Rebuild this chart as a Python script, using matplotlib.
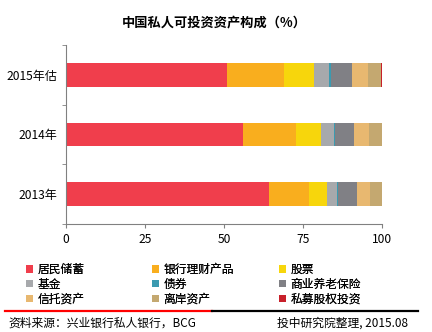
import matplotlib
matplotlib.use("Agg")
import matplotlib.pyplot as plt
from matplotlib.patches import Patch
from matplotlib.lines import Line2D
import numpy as np

plt.rcParams['font.family'] = ['Noto Sans CJK SC', 'DejaVu Sans']

years = ["2013年", "2014年", "2015年估"]
categories = ["居民储蓄", "银行理财产品", "股票", "基金", "债券", "商业养老保险",
              "信托资产", "离岸资产", "私募股权投资"]
values_2013 = [64.2, 12.6, 5.7, 3.1, 0.3, 6.1, 4.1, 3.9, 0.5]
values_2014 = [56.0, 16.7, 7.9, 4.0, 0.4, 6.1, 4.7, 4.1, 0.6]
values_2015 = [50.9, 18.0, 9.5, 4.7, 0.6, 6.7, 5.1, 4.1, 0.6]
colors = ["#F03E4C", "#F9AE1E", "#F7D60C", "#A7A9AC", "#3B9AB0", "#808085",
          "#E8B870", "#C4A870", "#C8202A"]

data = np.array([values_2013, values_2014, values_2015])

fig = plt.figure(figsize=(4.32, 3.32), dpi=100)
ax = fig.add_axes([65.7/432, 1-224/332, (382.3-65.7)/432, (224-45)/332])

y = np.arange(len(years))
left = np.zeros(len(years))
for i, cat in enumerate(categories):
    ax.barh(y, data[:, i], left=left, height=0.40, color=colors[i], label=cat)
    left += data[:, i]

ax.set_xlim(0, 100)
ax.set_ylim(-0.5, 2.5)
ax.set_xticks([0, 25, 50, 75, 100])
ax.set_xticklabels(["0", "25", "50", "75", "100"], fontsize=8.7)
ax.set_yticks(y)
ax.set_yticklabels(years, fontsize=8.7)
ax.tick_params(axis='y', length=0, pad=6)
ax.set_yticks([-0.5, 0.5, 1.5, 2.5], minor=True)
ax.tick_params(axis='y', which='minor', length=3, color='#808080')
ax.tick_params(axis='x', length=3, color='#808080', direction='out', pad=3.5)
for s in ['top', 'right']:
    ax.spines[s].set_visible(False)
for s in ['left', 'bottom']:
    ax.spines[s].set_color('#808080')
    ax.spines[s].set_linewidth(0.8)

fig.text(214/432, 1-22/332, "中国私人可投资资产构成（%）", ha='center', va='center',
         fontsize=9.5, fontweight='bold')

# legends: 3 columns, row-wise order
xcols = [26/432, 152/432, 279/432]
for c in range(3):
    idx = [c, c+3, c+6]
    handles = [Patch(facecolor=colors[k], edgecolor='none') for k in idx]
    labels = [categories[k] for k in idx]
    leg = fig.legend(handles, labels, loc='upper left',
                     bbox_to_anchor=(xcols[c], 1-263/332), frameon=False,
                     fontsize=8.5, handlelength=0.6, handleheight=0.6,
                     handletextpad=0.35, labelspacing=0.15, borderaxespad=0,
                     borderpad=0)
    fig.add_artist(leg)

fig.add_artist(Line2D([5/432, 212/432], [1-310.7/332]*2, color='#FF0000', lw=1.6))
fig.add_artist(Line2D([212/432, 418/432], [1-310.7/332]*2, color='#000000', lw=1.6))

fig.text(8/432, 1-323/332, "资料来源：兴业银行私人银行，BCG", ha='left', va='center', fontsize=8.5)
fig.text(408/432, 1-323/332, "投中研究院整理, 2015.08", ha='right', va='center', fontsize=8.5)

fig.savefig("out.png", dpi=100)
